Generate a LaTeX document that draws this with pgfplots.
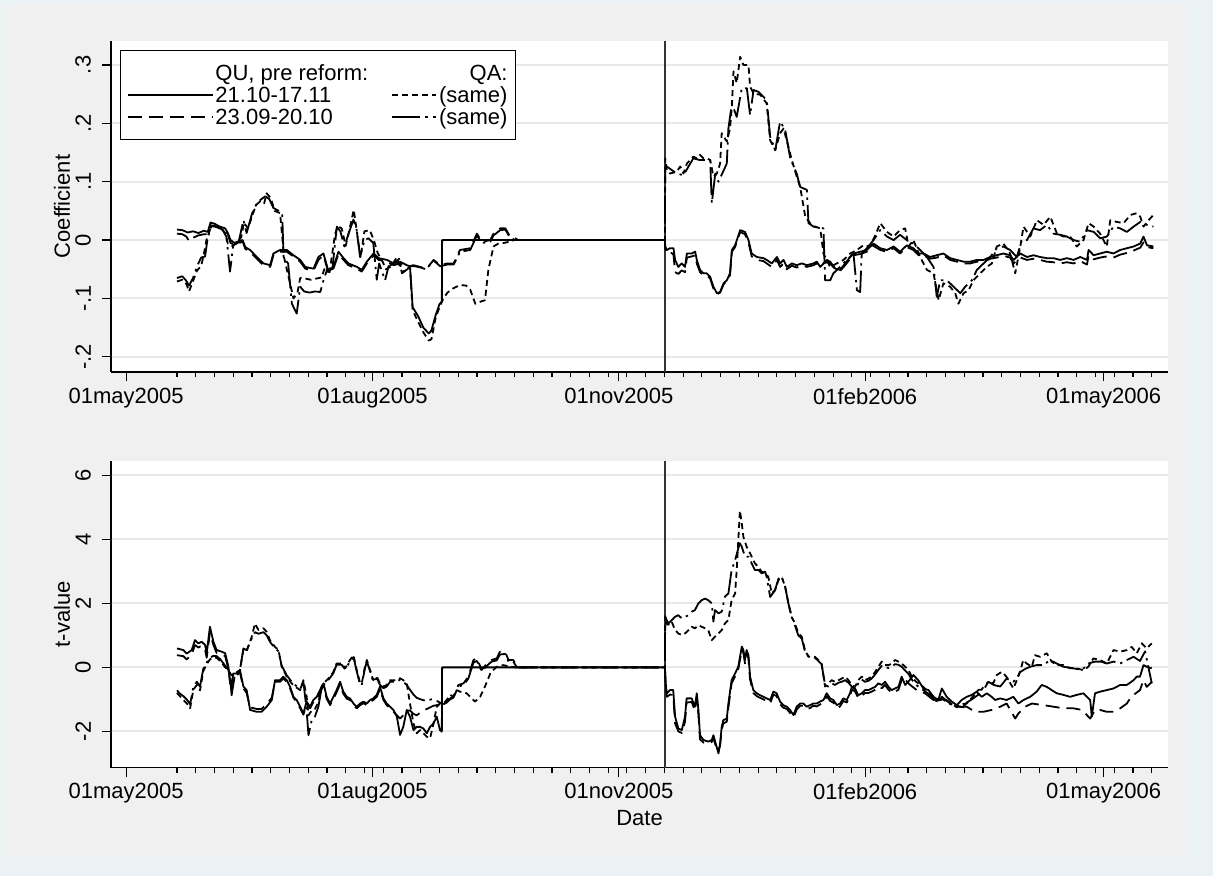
\documentclass[border=0pt]{standalone}
\usepackage{fontspec}
\setmainfont{Liberation Sans}
\usepackage{pgfplots}
\pgfplotsset{compat=1.18}
\definecolor{bgblue}{RGB}{234,242,243}
\definecolor{bggray}{RGB}{240,240,240}
\definecolor{gridgray}{RGB}{232,232,232}
\newlength\samew
\pgfkeys{/tikz/keylen/.initial=42.5pt}
\tikzset{
 sA/.style={black, line width=0.9pt, solid, line join=round},
 sB/.style={black, line width=0.9pt, dash pattern=on 7pt off 3.5pt, line join=round},
 sC/.style={black, line width=0.9pt, dash pattern=on 3pt off 2pt, line join=round},
 sD/.style={black, line width=0.9pt, dash pattern=on 14pt off 2.5pt on 1.2pt off 2.5pt, line join=round},
}
\pgfplotsset{
 stata/.style={
  scale only axis, width=528.5pt,
  xmin=-5.64, xmax=389.06,
  axis x line*=bottom, axis y line*=left,
  axis line style={-, line width=0.7pt, black},
  tick align=outside, xtick pos=left, ytick pos=left,
  major tick length=4.5pt, minor tick length=2.5pt,
  every tick/.style={black, line width=0.6pt},
  xtick={0,92,184,276,365},
  xticklabels={01may2005,01aug2005,01nov2005,01feb2006,01may2006},
  minor xtick={19,26,...,383},
  ymajorgrids, major grid style={gridgray, line width=1pt},
  axis background/.style={fill=white},
  tick label style={font=\fontsize{11}{13}\selectfont},
  label style={font=\fontsize{11}{13}\selectfont},
  yticklabel style={xshift=-2pt, rotate=90, anchor=south},
  /pgf/number format/assume math mode=true,
  ylabel style={at={(axis description cs:-0.0464,0.5)}, anchor=center},
 }
}
\begin{document}
\settowidth{\samew}{\fontsize{11}{13}\selectfont (same)}%
\begin{tikzpicture}
\fill[bgblue] (0,0) rectangle (606.5pt,-438pt);
\fill[bggray] (2pt,-2pt) rectangle (595pt,-428pt);
% ---------------- top panel
\begin{axis}[stata, at={(55.5pt,-186pt)}, anchor=south west, height=165.5pt,
  ymin=-0.226, ymax=0.341, ytick={-0.2,-0.1,0,0.1,0.2,0.3},
  yticklabels={-.2,-.1,0,.1,.2,.3}, ylabel={Coefficient},
  legend columns=2, legend cell align=left,
  legend style={at={(axis description cs:0.0085,0.9728)}, anchor=north west,
    draw=black, line width=0.7pt, fill=white, font=\fontsize{11}{13}\selectfont,
    inner xsep=3pt, inner ysep=6.5pt, row sep=1.5pt,
    nodes={inner xsep=1pt, inner ysep=0pt, text height=8.5pt, text depth=1pt},
    /tikz/every even column/.append style={column sep=10.5pt}},
  legend image code/.code={\draw[#1] (0pt,0pt) -- (\pgfkeysvalueof{/tikz/keylen},0pt);}]
\addlegendimage{empty legend}\addlegendentry{QU, pre reform:}
\addlegendimage{empty legend}\addlegendentry{\makebox[\samew][r]{QA:}}
\addlegendimage{sA}\addlegendentry{21.10-17.11}
\addlegendimage{sC, keylen=22pt}\addlegendentry{(same)}
\addlegendimage{sB}\addlegendentry{23.09-20.10}
\addlegendimage{sD, keylen=22pt}\addlegendentry{(same)}
\addplot[black!80, line width=0.6pt, forget plot] coordinates {(201.2,-0.226)(201.2,0.341)};
% A solid
\addplot[sA, forget plot] coordinates {(19,0.018)(21,0.017)(23,0.013)(25,0.015)(27,0.012)(29,0.016)(30.5,0.014)(31.5,0.030)(33,0.028)(35,0.023)(37,0.020)(38,0.012)(39,0.000)(40.5,-0.005)(42,-0.002)(43.5,0.000)(44.5,-0.012)(46.3,-0.017)(48.8,-0.029)(51.3,-0.040)(53.8,-0.043)(55,-0.023)(57.5,-0.017)(60,-0.017)(62.5,-0.026)(65,-0.034)(66.9,-0.046)(70,-0.049)(71.8,-0.029)(73.7,-0.023)(75.6,-0.054)(77.4,-0.046)(79.3,-0.020)(81.2,-0.031)(83,-0.040)(86.2,-0.046)(88,-0.051)(89.9,-0.037)(92.4,-0.023)(94.3,-0.031)(97.4,-0.034)(99.9,-0.040)(102.3,-0.037)(104.8,-0.043)(106,-0.045)(107,-0.115)(109,-0.130)(111,-0.150)(113,-0.160)(114,-0.155)(115.5,-0.130)(117,-0.110)(117.9,-0.105)(118,0)(201.2,0)(201.3,-0.011)(201.9,-0.017)(203.1,-0.014)(204.4,-0.014)(205,-0.034)(206.2,-0.046)(207.5,-0.040)(208.7,-0.046)(209.4,-0.023)(211.2,-0.023)(212.5,-0.020)(213.1,-0.034)(214.3,-0.051)(215.6,-0.057)(216.8,-0.057)(218.1,-0.063)(219.3,-0.080)(220.6,-0.091)(221.8,-0.089)(223.1,-0.074)(224.3,-0.069)(225.5,-0.057)(226.2,-0.017)(227.4,-0.009)(229.3,0.017)(231.1,0.014)(232.4,0.000)(233.6,-0.023)(235.5,-0.029)(238,-0.031)(239.2,-0.034)(241.1,-0.040)(243,-0.029)(244.2,-0.040)(245.5,-0.034)(246.7,-0.046)(248.6,-0.040)(250.4,-0.043)(252.3,-0.040)(254.2,-0.043)(256.7,-0.040)(257.9,-0.037)(259.2,-0.046)(261.7,-0.034)(262.9,-0.037)(264.8,-0.049)(266.6,-0.051)(268.5,-0.040)(270.4,-0.029)(271.6,-0.023)(274.1,-0.020)(276.6,-0.017)(279.1,-0.006)(281.6,-0.014)(284.1,-0.017)(286.6,-0.011)(289,-0.020)(291.5,-0.009)(294,-0.014)(295.9,-0.023)(297.8,-0.023)(300.2,-0.029)(302.7,-0.026)(305.2,-0.023)(307.7,-0.031)(310.2,-0.034)(312.7,-0.037)(315.2,-0.037)(317.7,-0.034)(320.2,-0.034)(322.7,-0.029)(325.1,-0.026)(327.6,-0.023)(330.1,-0.026)(331.4,-0.034)(333.9,-0.023)(336.4,-0.029)(338.8,-0.026)(341.3,-0.029)(343.8,-0.031)(346.3,-0.031)(348.8,-0.034)(351.3,-0.031)(353.8,-0.034)(356.3,-0.029)(358.8,-0.034)(359.4,-0.017)(361.3,-0.026)(363.7,-0.023)(366.2,-0.020)(368.7,-0.023)(371.2,-0.017)(373.7,-0.014)(376.2,-0.011)(378.7,-0.006)(379.9,0.006)(381.2,-0.009)(383.6,-0.011)};
% B long dash
\addplot[sB, forget plot] coordinates {(19,0.011)(21,0.010)(22.5,0.006)(23.5,-0.002)(25,0.004)(27,0.008)(29,0.010)(30.5,0.010)(31.5,0.025)(33,0.024)(35,0.020)(37,0.016)(38,0.010)(39,-0.005)(40.5,-0.008)(42,-0.006)(43.5,-0.002)(44.5,-0.015)(46.3,-0.020)(48.8,-0.032)(51.3,-0.043)(53.8,-0.046)(55,-0.026)(57.5,-0.020)(60,-0.020)(62.5,-0.028)(65,-0.037)(66.9,-0.049)(70,-0.052)(71.8,-0.034)(73.7,-0.026)(75.6,-0.057)(77.4,-0.049)(79.3,-0.024)(81.2,-0.034)(83,-0.043)(86.2,-0.049)(88,-0.054)(89.9,-0.040)(92.4,-0.026)(94.3,-0.034)(97.4,-0.037)(99.9,-0.043)(102.3,-0.040)(104.8,-0.046)(107.3,-0.043)(109.8,-0.046)(112.3,-0.049)(114.8,-0.034)(117.3,-0.043)(119.8,-0.040)(122.3,-0.040)(124.7,-0.017)(128.5,-0.014)(131,0.011)(132.8,-0.003)(136,0.000)(137.2,0.011)(139.7,0.020)(141.6,0.020)(143.4,0.006)(145.3,0.003)(146.5,0)(201.2,0)(201.3,-0.015)(201.9,-0.022)(203.1,-0.020)(204.4,-0.025)(205,-0.055)(206.2,-0.058)(207.5,-0.052)(208.7,-0.055)(209.4,-0.030)(211.2,-0.028)(212.5,-0.026)(213.1,-0.040)(214.3,-0.055)(215.6,-0.060)(216.8,-0.060)(218.1,-0.066)(219.3,-0.083)(220.6,-0.093)(221.8,-0.090)(223.1,-0.076)(224.3,-0.070)(225.5,-0.060)(226.2,-0.020)(227.4,-0.012)(229.3,0.014)(231.1,0.010)(232.4,-0.004)(233.6,-0.028)(235.5,-0.034)(238,-0.036)(239.2,-0.040)(241.1,-0.046)(243,-0.034)(244.2,-0.046)(245.5,-0.040)(246.7,-0.050)(248.6,-0.044)(250.4,-0.047)(252.3,-0.043)(254.2,-0.046)(256.7,-0.043)(257.9,-0.040)(259.2,-0.045)(260.4,-0.040)(261.7,-0.038)(262.9,-0.040)(264.8,-0.050)(266.6,-0.053)(268.5,-0.043)(270.4,-0.032)(271.6,-0.026)(274.1,-0.024)(276.6,-0.020)(279.1,-0.010)(281.6,-0.017)(284.1,-0.020)(286.6,-0.014)(289,-0.023)(291.5,-0.012)(294,-0.017)(295.9,-0.026)(297.8,-0.026)(300.2,-0.032)(302.7,-0.030)(305.2,-0.026)(307.7,-0.034)(310.2,-0.037)(312.7,-0.040)(315.2,-0.040)(317.7,-0.037)(320.2,-0.037)(322.7,-0.032)(325.1,-0.030)(327.6,-0.027)(330.1,-0.030)(331.4,-0.040)(333.9,-0.030)(336.4,-0.034)(338.8,-0.032)(341.3,-0.034)(343.8,-0.037)(346.3,-0.038)(348.8,-0.040)(351.3,-0.038)(353.8,-0.040)(356.3,-0.036)(358.8,-0.042)(359.4,-0.026)(361.3,-0.033)(363.7,-0.030)(366.2,-0.028)(368.7,-0.030)(371.2,-0.025)(373.7,-0.022)(376.2,-0.018)(378.7,-0.013)(379.9,-0.004)(381.2,-0.012)(383.6,-0.014)};
% C short dash
\addplot[sC, forget plot] coordinates {(19,-0.071)(21,-0.068)(22.5,-0.075)(23.5,-0.088)(25,-0.070)(26.5,-0.052)(28,-0.045)(29,-0.025)(30,0.000)(31.5,0.020)(33,0.024)(35,0.022)(37,0.012)(38,-0.006)(39.5,-0.010)(41,-0.006)(43,0.005)(44,0.030)(45.5,0.020)(47,0.040)(48.5,0.060)(50,0.066)(51.5,0.062)(52.5,0.080)(54,0.072)(55.5,0.050)(57.5,0.046)(59,-0.030)(61,-0.070)(62.5,-0.100)(64,-0.090)(65,-0.065)(67,-0.066)(69,-0.068)(71,-0.066)(73,-0.064)(74,-0.050)(76,-0.055)(78,0.010)(79,0.024)(80.5,0.020)(82,-0.010)(83.5,0.020)(85,0.052)(86,0.020)(87.5,-0.030)(89,0.015)(91,0.017)(92.5,0.000)(94,-0.023)(95.5,-0.034)(97,-0.050)(99,-0.045)(101,-0.030)(103,-0.055)(105,-0.050)(106,-0.045)(107,-0.120)(109,-0.140)(111,-0.158)(113,-0.172)(114,-0.170)(115.5,-0.135)(117,-0.115)(118.5,-0.100)(120,-0.090)(122,-0.083)(124.7,-0.077)(127,-0.078)(128.5,-0.085)(130.4,-0.109)(132,-0.106)(134,-0.103)(135.3,-0.050)(137.2,-0.011)(139,-0.006)(141,-0.005)(143,-0.003)(145,0)(201.2,0)(201.3,0.140)(201.9,0.120)(203.1,0.114)(205.6,0.117)(206.9,0.126)(208.1,0.114)(209.4,0.131)(210.6,0.137)(211.8,0.143)(213.1,0.140)(214.3,0.146)(215.6,0.140)(216.8,0.140)(218.1,0.137)(219.3,0.109)(220.6,0.114)(221.8,0.131)(222.4,0.183)(224.3,0.169)(225.5,0.191)(226.2,0.229)(226.8,0.289)(228,0.269)(229.3,0.314)(230.5,0.300)(232.4,0.300)(233,0.263)(234.3,0.251)(236.8,0.249)(239.2,0.234)(240.5,0.171)(242.4,0.154)(244.2,0.183)(245.5,0.191)(247.3,0.160)(248.6,0.137)(250.4,0.109)(251.7,0.091)(253.6,0.040)(255.4,0.029)(257.3,0.023)(259.2,0.020)(260.4,-0.023)(262.9,-0.046)(265.4,-0.040)(267.9,-0.034)(270.4,-0.023)(272.9,-0.017)(275.3,-0.009)(277.8,-0.011)(280.3,0.014)(281.6,0.029)(284.1,0.014)(286.6,0.006)(289,0.017)(290.9,0.020)(292.2,-0.011)(294,0.000)(296.5,-0.029)(299,-0.051)(301.5,-0.057)(303.4,-0.103)(305.2,-0.074)(307.7,-0.080)(309.6,-0.091)(310.8,-0.109)(312.7,-0.091)(314.6,-0.086)(316.4,-0.069)(318.9,-0.057)(321.4,-0.046)(323.3,-0.040)(325.1,-0.011)(327.6,-0.006)(330.1,-0.023)(332,-0.057)(333.9,-0.011)(335.1,0.023)(337.6,0.006)(340.1,0.034)(342.6,0.026)(345.1,0.040)(347.6,0.011)(350,0.006)(352.5,0.006)(355,-0.011)(357.5,0.000)(359.4,0.029)(361.3,0.023)(363.7,0.011)(366.2,-0.011)(367.5,0.034)(370,0.031)(372.5,0.029)(375,0.043)(377.4,0.046)(378.7,0.040)(379.9,0.023)(381.8,0.034)(383.6,0.043)};
% D dash-dot
\addplot[sD, forget plot] coordinates {(19,-0.065)(21,-0.062)(22.5,-0.070)(23.5,-0.078)(25,-0.065)(26.5,-0.045)(28,-0.030)(29.5,-0.028)(30.5,0.005)(32,0.025)(34,0.022)(36,0.018)(37.5,0.005)(38.8,-0.054)(40,-0.009)(42,-0.004)(43.8,0.034)(45,0.012)(47,0.045)(48.8,0.063)(50.5,0.070)(52,0.075)(53.5,0.070)(55,0.055)(57,0.050)(58.3,0.045)(58.8,-0.030)(60.5,-0.040)(61.9,-0.109)(63.7,-0.126)(65,-0.080)(66.5,-0.088)(68.5,-0.090)(70.5,-0.088)(72.5,-0.089)(73.7,-0.069)(75,-0.051)(77,-0.050)(78.7,0.023)(80,0.015)(81.5,-0.011)(83,0.010)(84.9,0.035)(86,0.020)(87.4,-0.029)(89,0.000)(90.5,0.003)(92.3,-0.005)(93.6,-0.068)(94.5,-0.040)(96.7,-0.069)(98,-0.045)(100,-0.040)(102,-0.032)(103,-0.057)(105,-0.050)(106,-0.045)(108,-0.045)(110,-0.047)(112,-0.050)(114.8,-0.035)(117.3,-0.045)(119.8,-0.042)(122.3,-0.042)(124.7,-0.020)(128.5,-0.017)(131,0.008)(132.8,-0.005)(136,-0.003)(137.2,0.008)(139.7,0.017)(141.6,0.018)(143.4,0.004)(145.3,0)(201.2,0)(201.3,0.125)(201.9,0.126)(205.6,0.114)(208.1,0.111)(211.8,0.140)(214.3,0.137)(218.1,0.137)(218.7,0.063)(220,0.114)(221.2,0.100)(224.3,0.131)(224.9,0.191)(226.2,0.234)(228,0.211)(229.9,0.260)(231.8,0.260)(233,0.214)(234.3,0.257)(236.1,0.254)(239.2,0.240)(240.5,0.177)(242.4,0.154)(244.2,0.203)(246.1,0.189)(248,0.140)(250.4,0.114)(251.7,0.091)(254.2,0.086)(254.8,0.029)(256.7,0.023)(260.4,0.020)(261,-0.069)(262.9,-0.069)(264.1,-0.057)(266.6,-0.046)(269.1,-0.034)(271.6,-0.023)(272.9,-0.086)(274.1,-0.089)(274.7,-0.023)(276.6,-0.014)(279.1,0.000)(281.6,0.017)(284.1,0.006)(286.6,0.000)(289,0.009)(291.5,0.000)(294,-0.006)(296.5,-0.017)(299,-0.029)(301.5,-0.046)(302.7,-0.097)(304,-0.069)(306.5,-0.069)(309,-0.080)(311.5,-0.091)(313.3,-0.080)(315.8,-0.069)(317.7,-0.051)(320.2,-0.040)(322.7,-0.029)(325.1,-0.014)(327.6,-0.011)(330.1,-0.017)(332.6,-0.029)(334.5,0.000)(336.4,0.000)(338.8,0.020)(341.3,0.017)(343.8,0.026)(346.3,0.011)(348.8,0.009)(351.3,0.006)(353.8,0.000)(356.3,-0.003)(358.8,0.017)(361.3,0.014)(363.7,0.003)(366.2,0.006)(368.7,0.023)(371.2,0.020)(373.7,0.014)(376.2,0.023)(378.7,0.031)(381.2,0.026)(383.6,0.023)};
\end{axis}
% ---------------- bottom panel
\begin{axis}[stata, at={(55.5pt,-383.75pt)}, anchor=south west, height=153.25pt,
  ymin=-3.13, ymax=6.45, ytick={-2,0,2,4,6}, yticklabels={-2,0,2,4,6},
  ylabel={t-value}, xlabel={Date},
  xlabel style={at={(axis description cs:0.5,-0.1648)}, anchor=center}]
\addplot[black!80, line width=0.6pt] coordinates {(201.2,-3.13)(201.2,6.45)};
% A solid
\addplot[sA] coordinates {(19,0.59)(21.4,0.54)(22.6,0.43)(24.5,0.54)(25.7,0.85)(27,0.75)(28.2,0.80)(29.5,0.70)(30.1,0.44)(31.3,1.27)(32.6,0.80)(33.8,0.54)(35.7,0.49)(37,0.44)(38.2,0.02)(38.8,-0.50)(39.4,-0.60)(40,-0.19)(41.3,-0.19)(42.5,-0.08)(43.8,-0.60)(45,-0.71)(46.3,-1.33)(48.8,-1.39)(50.6,-1.39)(52.5,-1.23)(54.4,-1.02)(55.6,-0.40)(57.5,-0.40)(58.7,-0.29)(60,-0.40)(61.2,-0.60)(62.5,-0.92)(63.7,-1.02)(65,-1.23)(66.2,-1.44)(67.4,-1.07)(68.7,-1.23)(69.9,-1.02)(71.2,-0.92)(72.4,-0.71)(73.7,-0.50)(74.9,-0.92)(76.2,-1.13)(77.4,-0.92)(78.6,-0.71)(79.9,-0.45)(81.1,-0.76)(82.4,-0.92)(83.6,-0.97)(84.9,-1.13)(86.1,-1.23)(87.4,-1.13)(88.6,-1.07)(89.9,-1.13)(91.1,-1.02)(92.3,-0.97)(93.6,-0.86)(94.8,-0.60)(96.1,-0.97)(97.3,-1.13)(98.6,-1.23)(99.8,-1.33)(101.1,-1.54)(102.3,-2.11)(103.5,-1.86)(104.8,-1.33)(106,-1.54)(107.3,-1.96)(108.5,-1.86)(109.8,-1.86)(111,-1.91)(112.3,-2.06)(113.5,-1.86)(114.8,-1.75)(116,-1.54)(117.2,-1.96)(117.9,-2.01)(118,0)(201.2,0)(201.5,-0.50)(201.9,-0.81)(203.1,-0.71)(204.3,-0.71)(205,-1.54)(206.2,-1.91)(207.5,-1.96)(208.7,-1.54)(209.3,-0.97)(211.2,-0.97)(212.4,-1.23)(213.1,-0.81)(213.7,-1.33)(214.3,-2.12)(215.6,-2.27)(217.4,-2.32)(218.7,-2.27)(219.3,-2.12)(220.5,-2.48)(221.2,-2.69)(221.8,-2.38)(222.4,-1.86)(223,-1.65)(224.3,-1.60)(224.9,-1.13)(226.1,-0.40)(227.4,-0.19)(228.6,0.02)(229.9,0.65)(230.5,0.54)(231.1,0.23)(231.7,0.54)(232.4,0.38)(233,-0.29)(234.2,-0.71)(235.5,-0.81)(236.7,-0.87)(238,-0.92)(239.2,-0.97)(240.5,-1.02)(241.7,-0.76)(242.9,-0.81)(244.2,-1.07)(245.4,-1.18)(246.7,-1.23)(247.9,-1.33)(249.2,-1.49)(250.4,-1.23)(251.7,-1.13)(252.9,-1.13)(254.1,-1.23)(255.4,-1.18)(256.6,-1.13)(257.9,-1.13)(259.1,-1.07)(260.4,-1.02)(261.6,-0.81)(262.9,-0.97)(264.1,-1.02)(265.4,-1.18)(266.6,-1.13)(267.8,-0.97)(269.1,-1.02)(270.3,-0.81)(271,-0.61)(272.2,-0.66)(273.4,-0.87)(274.7,-0.81)(275.9,-0.71)(277.2,-0.71)(278.4,-0.66)(279.7,-0.61)(280.9,-0.50)(282.2,-0.55)(283.4,-0.45)(284.7,-0.61)(285.9,-0.71)(287.1,-0.66)(288.4,-0.61)(289.6,-0.29)(290.9,-0.55)(292.1,-0.45)(294,-0.24)(295.8,-0.40)(297.7,-0.66)(299.6,-0.71)(301.5,-0.92)(303.3,-1.02)(304.6,-0.66)(306.4,-0.92)(308.3,-1.07)(310.2,-1.18)(312,-1.02)(313.9,-0.92)(315.8,-0.86)(317.6,-0.76)(319.5,-0.92)(321.4,-0.81)(323.2,-0.92)(324.5,-1.02)(326.4,-0.97)(328.8,-1.02)(331.3,-0.92)(333.2,-1.13)(335.1,-1.02)(337.6,-0.92)(340,-0.76)(341.9,-0.55)(343.8,-0.61)(345.6,-0.71)(347.5,-0.81)(350,-0.86)(352.5,-0.92)(355,-0.86)(357.5,-0.81)(360,-1.02)(360.6,-1.54)(361.8,-0.81)(363.7,-0.76)(366.2,-0.71)(368.7,-0.66)(371.2,-0.55)(373.7,-0.55)(376.2,-0.40)(377.4,-0.29)(378.6,-0.29)(379.9,0.07)(381.1,0.02)(383,-0.03)};
% B long dash
\addplot[sB] coordinates {(19,0.38)(21.4,0.35)(22.6,0.25)(24.5,0.40)(25.7,0.70)(27,0.62)(28.2,0.68)(29.5,0.55)(30.1,0.30)(31.3,1.10)(32.6,0.70)(33.8,0.45)(35.7,0.40)(37,0.35)(38.2,-0.05)(38.8,-0.40)(39.4,-0.50)(40,-0.25)(41.3,-0.25)(42.5,-0.15)(43.8,-0.65)(45,-0.80)(46.3,-1.25)(48.8,-1.30)(50.6,-1.30)(52.5,-1.15)(54.4,-0.95)(55.6,-0.45)(57.5,-0.45)(58.7,-0.35)(60,-0.45)(61.2,-0.65)(62.5,-0.95)(63.7,-1.08)(65,-1.28)(66.2,-1.48)(67.4,-1.12)(68.7,-1.28)(69.9,-1.08)(71.2,-0.98)(72.4,-0.78)(73.7,-0.58)(74.9,-0.98)(76.2,-1.18)(77.4,-0.98)(78.6,-0.78)(79.9,-0.52)(81.1,-0.82)(82.4,-0.98)(83.6,-1.02)(84.9,-1.18)(86.1,-1.28)(87.4,-1.18)(88.6,-1.12)(89.9,-1.18)(91.1,-1.08)(92.3,-1.02)(93.6,-0.92)(94.8,-0.68)(96.1,-1.02)(97.3,-1.18)(98.6,-1.28)(99.8,-1.38)(101.1,-1.50)(102.3,-1.60)(103.5,-1.50)(104.8,-1.35)(106,-1.35)(107.3,-1.45)(108.5,-1.50)(109.8,-1.42)(111,-1.35)(112.3,-1.30)(113.5,-1.25)(114.8,-1.20)(116,-1.18)(117.2,-1.15)(118.5,-1.13)(119.7,-1.07)(121,-0.97)(122.2,-0.92)(124.1,-0.55)(126,-0.50)(127.8,-0.29)(129.7,0.23)(131,0.28)(132.8,-0.08)(134.7,0.12)(136.5,0.23)(138.4,0.28)(139.6,0.49)(141.5,0.49)(142.8,0.23)(144.6,0.23)(145.9,0.02)(146.5,0)(201.2,0)(201.5,-0.60)(201.9,-0.92)(203.1,-0.85)(204.3,-0.86)(205,-1.75)(206.2,-2.00)(207.5,-2.05)(208.7,-1.70)(209.3,-1.10)(211.2,-1.08)(212.4,-1.35)(213.1,-0.95)(213.7,-1.45)(214.3,-2.25)(215.6,-2.35)(217.4,-2.38)(218.7,-2.33)(219.3,-2.20)(220.5,-2.55)(221.2,-2.60)(221.8,-2.45)(222.4,-1.95)(223,-1.75)(224.3,-1.70)(224.9,-1.25)(226.1,-0.50)(227.4,-0.28)(228.6,-0.05)(229.9,0.55)(230.5,0.45)(231.1,0.12)(231.7,0.42)(232.4,0.28)(233,-0.38)(234.2,-0.80)(235.5,-0.90)(236.7,-0.95)(238,-1.00)(239.2,-1.06)(240.5,-1.12)(241.7,-0.85)(242.9,-0.90)(244.2,-1.15)(245.4,-1.26)(246.7,-1.30)(247.9,-1.42)(249.2,-1.56)(250.4,-1.32)(251.7,-1.20)(252.9,-1.20)(254.1,-1.30)(255.4,-1.27)(256.6,-1.20)(257.9,-1.22)(259.1,-1.16)(260.4,-1.10)(261.6,-0.90)(262.9,-1.05)(264.1,-1.10)(265.4,-1.27)(266.6,-1.22)(267.8,-1.05)(269.1,-1.10)(270.3,-0.90)(271,-0.70)(272.2,-0.75)(273.4,-0.96)(274.7,-0.90)(275.9,-0.80)(277.2,-0.80)(278.4,-0.76)(279.7,-0.70)(280.9,-0.60)(282.2,-0.65)(283.4,-0.55)(284.7,-0.70)(285.9,-0.80)(287.1,-0.76)(288.4,-0.70)(289.6,-0.40)(290.2,-0.30)(292.1,-0.50)(295.2,-0.71)(298.3,-0.81)(301.5,-1.02)(304.6,-0.92)(307.7,-1.13)(310.8,-1.23)(313.9,-1.23)(317,-1.39)(320.1,-1.39)(323.2,-1.33)(326.4,-1.23)(328.8,-1.13)(332,-1.60)(333.2,-1.44)(335.7,-1.23)(338.2,-1.13)(342.5,-1.18)(346.3,-1.23)(350,-1.28)(353.7,-1.28)(356.9,-1.33)(360,-1.60)(361.8,-1.33)(363.7,-1.33)(366.2,-1.39)(368.7,-1.39)(371.2,-1.28)(373.7,-1.13)(374.9,-0.97)(376.2,-0.86)(378.6,-0.71)(379.9,-0.40)(381.1,-0.61)(383,-0.45)};
% C short dash
\addplot[sC] coordinates {(19,-0.80)(20.1,-0.90)(21.4,-1.02)(22.6,-1.12)(23.9,-1.28)(25.1,-0.70)(26.4,-0.55)(27.6,-0.72)(28.8,-0.12)(30.1,0.10)(31.3,0.25)(32.6,0.30)(33.8,0.30)(35.1,0.20)(37,0.00)(38.2,-0.10)(39.4,-0.25)(40.7,-0.22)(42.5,-0.10)(43.8,0.55)(45,0.50)(46.9,0.95)(48.1,1.37)(49.4,1.17)(51.3,1.22)(52.5,1.11)(53.7,0.85)(55.6,0.64)(56.9,0.54)(58.1,0.02)(60,-0.29)(61.8,-0.50)(63.1,-0.60)(65,-0.71)(66.2,-0.40)(67.4,-0.90)(68.1,-1.50)(69.3,-1.35)(70.5,-1.30)(71.8,-1.10)(73,-0.60)(73.7,-0.50)(74.9,-0.40)(76.2,-0.29)(77.4,-0.14)(78.6,0.12)(80.5,0.12)(81.8,-0.03)(83.6,0.23)(84.9,0.38)(86.1,-0.08)(87.4,-0.50)(88,-0.50)(89.2,0.02)(89.9,0.23)(91.1,-0.08)(92.3,-0.40)(93.6,-0.29)(94.8,-0.50)(96.1,-0.60)(97.3,-0.55)(98.6,-0.40)(99.8,-0.40)(101.1,-0.40)(102.3,-0.34)(103.5,-0.40)(104.8,-0.50)(106,-1.13)(107.3,-1.75)(108.5,-2.06)(109.8,-1.96)(111,-2.06)(112.3,-2.17)(113.5,-2.22)(114.8,-1.75)(116,-1.23)(117.2,-1.13)(118.5,-1.13)(119.7,-1.02)(121,-0.86)(122.2,-0.92)(123.5,-0.71)(124.7,-0.76)(127.2,-0.81)(129.1,-0.97)(130.3,-1.07)(132.2,-0.92)(134,-0.60)(136,-0.19)(137.2,-0.08)(138.4,0.02)(140.9,0.07)(143.4,0.02)(145.3,0)(201.2,0)(201.3,1.60)(201.6,1.37)(202.5,1.33)(203.7,1.43)(205,1.17)(206.2,1.06)(207.5,1.01)(208.7,1.06)(210,1.16)(211.2,1.27)(212.4,1.22)(213.7,1.32)(214.9,1.27)(216.2,1.22)(217.4,1.16)(218.7,0.85)(219.9,0.96)(221.2,1.06)(222.4,1.16)(223.6,1.37)(224.9,1.48)(226.1,2.10)(227.4,2.31)(228,3.04)(229.2,4.90)(229.9,4.50)(230.5,4.08)(231.7,3.77)(232.4,3.67)(233.6,3.46)(234.8,3.25)(236.1,3.14)(237.3,2.99)(238.6,2.94)(239.8,2.83)(241.1,2.31)(242.3,2.41)(243.6,2.73)(244.8,2.83)(246.1,2.52)(247.3,2.00)(248.5,1.58)(249.8,1.37)(251,1.06)(252.3,0.96)(253.5,0.54)(254.8,0.33)(257.2,0.33)(258.5,0.23)(259.7,0.12)(261,-0.60)(262.2,-0.50)(263.5,-0.40)(264.7,-0.45)(266,-0.40)(267.2,-0.35)(268.5,-0.29)(269.7,-0.40)(271,-0.55)(272.2,-0.61)(273.4,-0.40)(274.7,-0.29)(275.9,-0.40)(277.2,-0.35)(278.4,-0.29)(279.7,-0.14)(280.9,0.02)(282.2,0.18)(283.4,0.07)(284.7,0.07)(285.9,0.12)(287.1,0.23)(288.4,0.18)(289.6,0.12)(290.9,0.02)(292.1,-0.08)(293.4,-0.29)(295,-0.45)(297.5,-0.60)(300,-0.80)(302.5,-1.00)(305,-0.95)(307.7,-1.10)(310.2,-1.25)(312.5,-1.15)(313.9,-1.13)(315.8,-0.95)(318.3,-0.70)(320.2,-0.70)(322,-0.45)(323.8,-0.50)(325.1,-0.24)(327,-0.14)(328.8,-0.30)(331.3,-0.66)(332.6,-0.40)(333.8,-0.14)(335,0.23)(336.3,0.12)(338.2,0.02)(339.4,0.38)(341.3,0.33)(343.8,0.44)(345.6,0.18)(347.5,0.07)(350,0.07)(352.5,-0.03)(355,-0.03)(357.5,-0.09)(359.3,0.02)(361.2,0.28)(363.7,0.23)(366.2,0.12)(368.7,0.54)(371.2,0.49)(373.7,0.54)(375.5,0.64)(377.4,0.44)(379.3,0.75)(381.1,0.59)(383,0.75)};
% D dash-dot
\addplot[sD] coordinates {(19,-0.72)(20.1,-0.82)(21.4,-0.90)(22.6,-1.00)(23.9,-1.15)(25.1,-0.62)(26.4,-0.45)(27.6,-0.60)(28.8,-0.05)(30.1,0.15)(31.3,0.30)(32.6,0.36)(33.8,0.35)(35.1,0.26)(37,0.05)(38.2,-0.08)(38.8,-0.30)(39.4,-0.87)(40.7,-0.19)(42.5,-0.08)(43.8,0.59)(45,0.54)(46.9,0.90)(48.1,1.10)(49.4,1.05)(51.3,1.10)(52.5,1.00)(53.7,0.80)(55.6,0.60)(56.9,0.50)(58.1,0.05)(60,-0.25)(61.8,-0.45)(63.1,-0.55)(65,-0.68)(66.2,-0.45)(67.4,-1.33)(68.1,-2.12)(69.3,-1.65)(70.5,-1.54)(71.8,-1.23)(73,-0.65)(73.7,-0.55)(74.9,-0.45)(76.2,-0.32)(77.4,-0.18)(78.6,0.08)(80.5,0.08)(81.8,-0.06)(83.6,0.18)(84.9,0.32)(86.1,-0.12)(87.4,-0.55)(88,-0.55)(89.2,-0.02)(89.9,0.18)(91.1,-0.12)(92.3,-0.45)(93.6,-0.33)(94.8,-0.55)(96.1,-0.65)(97.3,-0.60)(98.6,-0.45)(99.8,-0.45)(101.1,-0.45)(102.3,-0.38)(103.5,-0.45)(104.8,-0.55)(106,-0.70)(107.3,-0.85)(108.5,-0.95)(110,-1.00)(112,-1.05)(114,-1.00)(116,-1.05)(117.2,-1.10)(118.5,-1.15)(119.7,-1.10)(121,-1.00)(122.2,-0.95)(124.1,-0.60)(126,-0.55)(127.8,-0.35)(129.7,0.15)(131,0.20)(132.8,-0.12)(134.7,0.05)(136.5,0.18)(138.4,0.22)(139.6,0.40)(141.5,0.42)(142.8,0.18)(144.6,0.18)(145.9,0)(201.2,0)(201.3,1.58)(202.5,1.37)(205,1.58)(206.2,1.63)(207.5,1.53)(208.7,1.58)(210,1.63)(211.2,1.74)(212.4,1.79)(213.7,2.00)(214.9,2.10)(216.2,2.15)(217.4,2.10)(218.7,2.00)(219.3,1.43)(219.9,1.79)(221.2,1.69)(222.4,1.74)(223.6,2.21)(224.9,2.31)(226.1,3.04)(227.4,3.35)(228.6,3.72)(229.2,3.88)(229.9,3.77)(231.1,3.46)(232.4,3.46)(233.6,3.25)(234.8,3.04)(236.1,3.04)(237.3,2.94)(238.6,2.99)(239.2,2.83)(240.5,2.20)(242.3,2.41)(243.6,2.77)(244.8,2.83)(246.1,2.52)(247.3,2.00)(248.5,1.60)(249.8,1.30)(251,1.00)(252.3,0.90)(253.5,0.50)(254.8,0.35)(257.2,0.30)(258.5,0.20)(259.7,0.10)(261,-0.55)(262.2,-0.60)(263.5,-0.50)(264.7,-0.55)(266,-0.48)(267.2,-0.45)(268.5,-0.40)(269.7,-0.48)(271,-0.60)(272.2,-0.70)(273.4,-0.50)(274.7,-0.38)(275.9,-0.45)(277.2,-0.42)(278.4,-0.35)(279.7,-0.22)(280.9,-0.08)(282.2,0.05)(283.4,0.00)(284.7,-0.02)(285.9,0.02)(287.1,0.10)(288.4,0.08)(289.6,0.02)(290.9,-0.10)(292.1,-0.20)(293.4,-0.38)(295,-0.55)(297.5,-0.70)(300,-0.85)(302.5,-1.05)(305,-1.00)(307.7,-1.15)(310.2,-1.20)(312.5,-1.25)(313.9,-1.10)(315.8,-1.00)(318.3,-0.85)(320.2,-0.60)(322,-0.45)(324,-0.55)(326.4,-0.60)(328.8,-0.35)(331.3,-0.45)(332.6,-0.35)(333.8,-0.15)(335.7,-0.05)(337.6,0.02)(340,0.07)(342.5,0.07)(345,0.23)(347.5,0.12)(350,0.02)(353.7,-0.03)(356.9,-0.08)(359.3,0.12)(361.8,0.18)(364,0.18)(366.2,0.12)(368.7,0.18)(371.2,0.12)(373.7,0.23)(376.2,0.33)(378.6,0.20)(380.5,0.50)(381.5,0.10)(383,-0.50)};
\end{axis}
\pgfresetboundingbox
\path (0,0) rectangle (606.5pt,-438pt);
\end{tikzpicture}
\end{document}
